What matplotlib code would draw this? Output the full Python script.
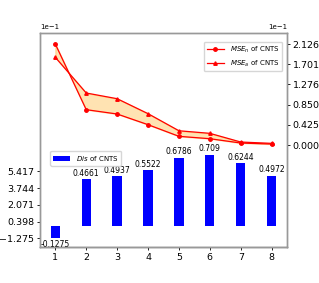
import numpy as np
import matplotlib
matplotlib.use("Agg")
import matplotlib.pyplot as plt

x = [1, 2, 3, 4, 5, 6, 7, 8]
dis = [-0.1275, 0.4661, 0.4937, 0.5522, 0.6786, 0.709, 0.6244, 0.4972]
mse_n = [0.2126, 0.0744, 0.0653, 0.0428, 0.0183, 0.0133, 0.0042, 0.0020]
mse_a = [0.1846, 0.1095, 0.0975, 0.0660, 0.0300, 0.0246, 0.0063, 0.0035]

fig = plt.figure(figsize=(3.19, 2.83), dpi=100)
ax = fig.add_axes([0.125, 0.126, 0.775, 0.756])

# bars on the left axis
bars = ax.bar(x, dis, width=0.3, color='blue', label=r'$Dis$ of CNTS')
ax.bar_label(bars, fmt='%g', fontsize=5.5, padding=1)
ax.set_ylim(-0.2174, 1.92)
ax.set_xlim(0.5, 8.5)
ax.set_xticks(x)
ax.set_yticks(np.linspace(min(dis), max(dis), 6)[:5])
ax.ticklabel_format(axis='y', style='sci', scilimits=(0, 0))
ax.yaxis.get_offset_text().set_fontsize(5)
ax.tick_params(labelsize=6.8, length=2.5, width=0.6, pad=1.5)
ax.legend(loc='upper left', bbox_to_anchor=(0.042, 0.45), borderaxespad=0,
          fontsize=5, handlelength=2.5)

# the two error curves on a twin axis
ax2 = ax.twinx()
ax2.plot(x, mse_n, 'r-o', lw=0.9, ms=2.5, label=r'$MSE_n$ of CNTS')
ax2.plot(x, mse_a, 'r-^', lw=0.9, ms=2.5, label=r'$MSE_a$ of CNTS')
ax2.fill_between(x, mse_n, mse_a, color='orange', alpha=0.3)
ax2.set_ylim(-0.2154, 0.235)
ax2.set_yticks(np.linspace(0, max(mse_n), 6))
ax2.ticklabel_format(axis='y', style='sci', scilimits=(0, 0))
ax2.yaxis.get_offset_text().set_fontsize(5)
ax2.tick_params(labelsize=6.8, length=2.5, width=0.6, pad=1.5)
ax2.legend(loc='upper right', bbox_to_anchor=(0.98, 0.96), borderaxespad=0,
           fontsize=5, handlelength=2.5)

for a in (ax, ax2):
    for s in a.spines.values():
        s.set_color('#999999')
        s.set_linewidth(1.0)
ax.spines['bottom'].set_color('#555555')

plt.savefig('out.png', dpi=100)
